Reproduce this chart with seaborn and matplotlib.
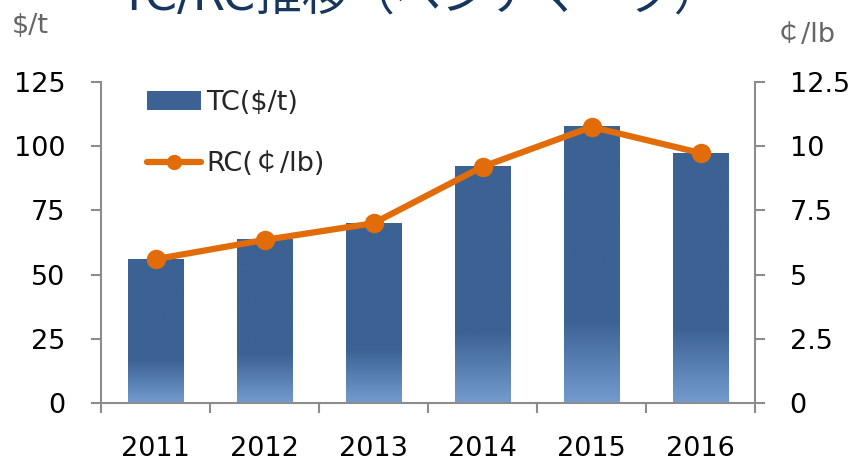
import numpy as np
import pandas as pd
import matplotlib
matplotlib.use("Agg")
import matplotlib.pyplot as plt
from matplotlib.lines import Line2D
from matplotlib.patches import Patch
import seaborn as sns

# データ（ベンチマーク TC/RC）
years = ["2011", "2012", "2013", "2014", "2015", "2016"]
tc = [56.0, 63.5, 70.0, 92.0, 107.5, 97.35]
rc = [5.6, 6.35, 7.0, 9.2, 10.75, 9.735]
left_ticks = [0, 25, 50, 75, 100, 125]
right_ticks = [0, 2.5, 5, 7.5, 10, 12.5]
right_labels = ["0", "2.5", "5", "7.5", "10", "12.5"]

dark = np.array([0x3B, 0x62, 0x93]) / 255
light = np.array([0x74, 0x9B, 0xCE]) / 255
orange = "#E36C0A"
gray = "#8C8C8C"

sns.set_theme(style="white")
plt.rcParams['font.family'] = ['DejaVu Sans', 'Noto Sans CJK JP']

fig = plt.figure(figsize=(8.59, 4.61), dpi=100)
ax = fig.add_axes([101/859, 1 - 403/461, 654/859, 321/461])

df = pd.DataFrame({"year": years, "tc": tc})
sns.barplot(data=df, x="year", y="tc", color=dark, width=0.51, saturation=1, ax=ax)

# 棒の下側30%をグラデーションに
n = 200
t = np.linspace(1, 0, n)[:, None]
mix = np.clip(t / 0.3, 0, 1)
grad = (light * (1 - mix) + dark * mix)[:, None, :]
for p in ax.patches:
    x0, w, h = p.get_x(), p.get_width(), p.get_height()
    ax.imshow(grad, extent=[x0, x0 + w, 0, h], aspect="auto", origin="upper",
              interpolation="bilinear", zorder=p.get_zorder() + 0.1)

ax.set_xlim(-0.5, len(years) - 0.5)
ax.set_ylim(0, 125)
ax.set_xlabel("")
ax.set_ylabel("")
ax.set_yticks(left_ticks)
ax.set_xticks(range(len(years)), labels=years)
ax.set_xticks(np.arange(-0.5, len(years), 1), minor=True)

ax.tick_params(axis="y", left=True, length=7, width=1.5, color=gray, pad=18.5,
               labelsize=19.5, labelcolor="black")
ax.tick_params(axis="x", which="major", length=0, pad=24, labelsize=19.5, labelcolor="black")
ax.tick_params(axis="x", which="minor", bottom=True, length=7.5, width=1.5, color=gray)
for s in ["top", "right"]:
    ax.spines[s].set_visible(False)
for s in ["left", "bottom"]:
    ax.spines[s].set_color(gray)
    ax.spines[s].set_linewidth(1.5)

# RC 折れ線（右軸）
ax2 = ax.twinx()
sns.lineplot(x=np.arange(len(years)), y=rc, ax=ax2, color=orange, lw=4.5,
             marker="o", markersize=14, markeredgewidth=0, legend=False)
ax2.set_ylim(0, 12.5)
ax2.set_yticks(right_ticks, labels=right_labels)
ax2.set_ylabel("")
ax2.tick_params(axis="y", right=True, length=7, width=1.5, color=gray, pad=18,
                labelsize=19.5, labelcolor="black")
for s in ["top", "left", "bottom"]:
    ax2.spines[s].set_visible(False)
ax2.spines["right"].set_color(gray)
ax2.spines["right"].set_linewidth(1.5)

handles = [Patch(facecolor=dark, edgecolor="none"),
           Line2D([], [], color=orange, lw=4.5, marker="o", markersize=11, markeredgewidth=0)]
ax2.legend(handles, ["TC(\\$/t)", "RC(￠/lb)"], loc="upper left",
           bbox_to_anchor=(147/859, 1 - 90/461), bbox_transform=fig.transFigure,
           frameon=False, fontsize=19.5, handlelength=2.0, handletextpad=0.2,
           labelspacing=1.3, borderpad=0, borderaxespad=0)

# 単位と見出し（見出しは上端で切れている）
fig.text(12/859, 1 - 26/461, "\\$/t", ha="left", va="center", fontsize=19.5, color="#666666")
fig.text(775/859, 1 - 35/461, "￠/lb", ha="left", va="center", fontsize=19.5, color="#666666")
fig.text(420/859, 1 - 11/461, "TC/RC推移（ベンチマーク）", ha="center", va="baseline",
         fontsize=33.5, color="#17365D")

fig.savefig("out.png", dpi=100)
